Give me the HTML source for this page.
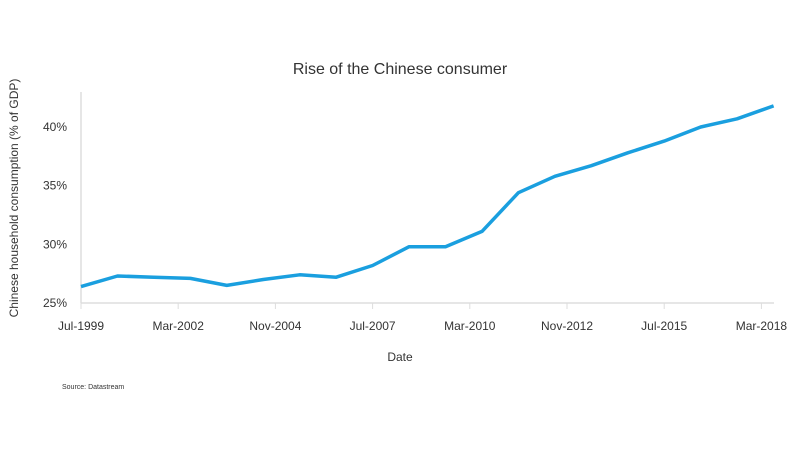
<!DOCTYPE html>
<html><head><meta charset="utf-8"><style>
body{margin:0;background:#fff;font-family:"Liberation Sans",sans-serif}
text{fill:#333}
</style></head><body>
<svg width="800" height="450">
<text x="400" y="74" text-anchor="middle" font-size="16">Rise of the Chinese consumer</text>
<line x1="81" y1="92" x2="81" y2="303" stroke="#ddd" stroke-width="1.5"/>
<line x1="81" y1="303" x2="774" y2="303" stroke="#ddd" stroke-width="1.5"/>
<g id="yt"></g><g id="xt"></g>
<text transform="translate(18,198) rotate(-90)" text-anchor="middle" font-size="12">Chinese household consumption (% of GDP)</text>
<text x="400" y="361" text-anchor="middle" font-size="12">Date</text>
<text x="62" y="389" font-size="7">Source: Datastream</text>
<path id="ln" fill="none" stroke="#1a9fdf" stroke-width="3.5" stroke-linejoin="round"/>
</svg>
<script>
const years=[1999,2000,2001,2002,2003,2004,2005,2006,2007,2008,2009,2010,2011,2012,2013,2014,2015,2016,2017,2018];
const values=[26.4,27.3,27.2,27.1,26.5,27.0,27.4,27.2,28.2,29.8,29.8,31.1,34.4,35.8,36.7,37.8,38.8,40.0,40.7,41.8];
const yTicks=[25,30,35,40];
const xTickLabels=["Jul-1999","Mar-2002","Nov-2004","Jul-2007","Mar-2010","Nov-2012","Jul-2015","Mar-2018"];
const xTickMonths=[0,32,64,96,128,160,192,224];
const ns="http://www.w3.org/2000/svg";
const x0=81,pxPerYear=36.45;
const X=t=>x0+t*pxPerYear; // t in years from Jul-1999
const Y=v=>303-(v-25)*(176/15);
const yt=document.getElementById('yt'),xt=document.getElementById('xt');
yTicks.forEach(v=>{const t=document.createElementNS(ns,'text');


t.setAttribute('x',67);t.setAttribute('y',Y(v)+4);t.setAttribute('text-anchor','end');t.setAttribute('font-size','12');t.textContent=v+'%';yt.appendChild(t);});
xTickLabels.forEach((l,i)=>{const x=X(xTickMonths[i]/12);
const k=document.createElementNS(ns,'line');


k.setAttribute('x1',x);k.setAttribute('x2',x);k.setAttribute('y1',303);k.setAttribute('y2',309);k.setAttribute('stroke','#ddd');xt.appendChild(k);
const t=document.createElementNS(ns,'text');


t.setAttribute('x',x);t.setAttribute('y',330);t.setAttribute('text-anchor','middle');t.setAttribute('font-size','12');t.textContent=l;xt.appendChild(t);});
document.getElementById('ln').setAttribute('d',values.map((v,i)=>(i?'L':'M')+X(years[i]-1999).toFixed(1)+','+Y(v).toFixed(1)).join(''));
</script>
</body></html>
